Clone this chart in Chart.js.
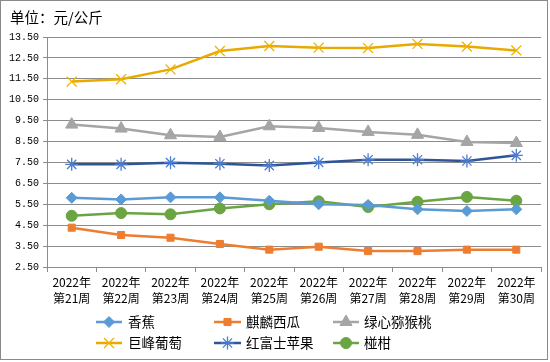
<!DOCTYPE html>
<html>
<head>
<meta charset="utf-8">
<script src="https://cdn.jsdelivr.net/npm/chart.js@4/dist/chart.umd.min.js"></script>
<style>
html,body{margin:0;padding:0;background:#fff;}
#wrap{position:relative;width:550px;height:362px;}
</style>
</head>
<body>
<div id="wrap"><canvas id="c" width="550" height="362"></canvas></div>
<script>
// ---- data ----
const yearLabel = '2022年';
const weeks = ['第21周','第22周','第23周','第24周','第25周','第26周','第27周','第28周','第29周','第30周'];
const seriesNames = ['香蕉','麒麟西瓜','绿心猕猴桃','巨峰葡萄','红富士苹果','椪柑'];
const banana     = [5.81, 5.73, 5.83, 5.83, 5.67, 5.50, 5.47, 5.26, 5.18, 5.26];
const watermelon = [4.38, 4.03, 3.90, 3.60, 3.33, 3.47, 3.26, 3.26, 3.33, 3.33];
const kiwi       = [9.31, 9.12, 8.80, 8.72, 9.23, 9.15, 8.96, 8.82, 8.48, 8.43];
const grape      = [11.37, 11.48, 11.95, 12.83, 13.07, 12.99, 12.97, 13.17, 13.04, 12.86];
const apple      = [7.41, 7.41, 7.49, 7.44, 7.35, 7.50, 7.63, 7.63, 7.57, 7.84];
const ponkan     = [4.95, 5.08, 5.02, 5.30, 5.50, 5.64, 5.37, 5.62, 5.85, 5.67];
const yMin = 2.5, yMax = 13.5, yStep = 1;
const unitTitle = '单位：元/公斤';

const labels = weeks.map(w => [yearLabel, w]);
const CJK = '"Noto Sans CJK SC","Noto Sans",sans-serif';

function ds(label, data, color, style, radius, pointColor, pw) {
  return {
    label, data,
    borderColor: color, backgroundColor: pointColor || color,
    pointBackgroundColor: pointColor || color,
    pointBorderColor: pointColor || color,
    pointStyle: style, pointRadius: radius, pointHoverRadius: radius,
    pointBorderWidth: pw || 1,
    borderWidth: 2.5, tension: 0, fill: false
  };
}

const datasets = [
  ds(seriesNames[0], banana, '#5B9BD5', 'rectRot', 5.5),
  ds(seriesNames[1], watermelon, '#ED7D31', 'rect', 5),
  ds(seriesNames[2], kiwi, '#A5A5A5', 'triangle', 7),
  ds(seriesNames[3], grape, '#E8AA00', 'crossRot', 7, '#F0B400', 1.3),
  ds(seriesNames[4], apple, '#2F5597', 'star', 6.5, '#4A7CD0', 1.3),
  ds(seriesNames[5], ponkan, '#6AA443', 'circle', 5.5)
];

const gridColor = '#8C8C8C';

const decor = {
  id: 'decor',
  beforeDraw(chart) {
    const ctx = chart.ctx;
    ctx.save();
    ctx.fillStyle = '#fff';
    ctx.fillRect(0, 0, chart.width, chart.height);
    ctx.restore();
  },
  afterDraw(chart) {
    const ctx = chart.ctx;
    ctx.save();
    // outer border
    ctx.strokeStyle = '#898989';
    ctx.lineWidth = 1;
    ctx.strokeRect(0.5, 0.5, 547, 359);
    // title
    ctx.fillStyle = '#000';
    ctx.font = '14.5px ' + CJK;
    ctx.textBaseline = 'alphabetic';
    ctx.textAlign = 'left';
    ctx.fillText(unitTitle, 10, 23);
    // legend
    const cols = [{l:96, r:122, t:128}, {l:214, r:241, t:246}, {l:333, r:359, t:364}];
    const rows = [322, 343];
    ctx.font = '13.5px ' + CJK;
    ctx.textBaseline = 'middle';
    chart.data.datasets.forEach((d, i) => {
      const c = cols[i % 3], y = rows[Math.floor(i / 3)];
      ctx.strokeStyle = d.borderColor;
      ctx.lineWidth = d.borderWidth;
      ctx.beginPath(); ctx.moveTo(c.l, y); ctx.lineTo(c.r, y); ctx.stroke();
      ctx.fillStyle = d.pointBackgroundColor;
      ctx.strokeStyle = d.pointBorderColor;
      ctx.lineWidth = d.pointBorderWidth;
      Chart.helpers.drawPoint(ctx, {pointStyle: d.pointStyle, radius: d.pointRadius, borderWidth: d.pointBorderWidth, rotation: 0}, (c.l + c.r) / 2, y);
      ctx.fillStyle = '#000';
      ctx.fillText(d.label, c.t, y);
    });
    ctx.restore();
  }
};

new Chart(document.getElementById('c'), {
  type: 'line',
  data: { labels, datasets },
  plugins: [decor],
  options: {
    responsive: false,
    animation: false,
    devicePixelRatio: 1,
    layout: { padding: { left: 0, right: 9, top: 37, bottom: 53 } },
    plugins: { legend: { display: false }, title: { display: false }, tooltip: { enabled: false } },
    scales: {
      x: {
        offset: true,
        grid: { drawOnChartArea: false, offset: true, color: gridColor, tickLength: 5 },
        border: { color: gridColor, width: 1 },
        ticks: { color: '#000', font: { family: CJK, size: 12, lineHeight: 1.3 }, padding: 3, maxRotation: 0, autoSkip: false },
        afterFit(s) { s.height = 42; }
      },
      y: {
        min: yMin, max: yMax,
        grid: { color: gridColor, tickLength: 4 },
        border: { color: gridColor, width: 1 },
        ticks: {
          stepSize: yStep, color: '#000', padding: 4,
          font: { family: '"Liberation Mono","DejaVu Sans Mono",monospace', size: 10 },
          callback: v => Number(v).toFixed(2)
        },
        afterFit(s) { s.width = 47; }
      }
    }
  }
});
</script>
</body>
</html>
